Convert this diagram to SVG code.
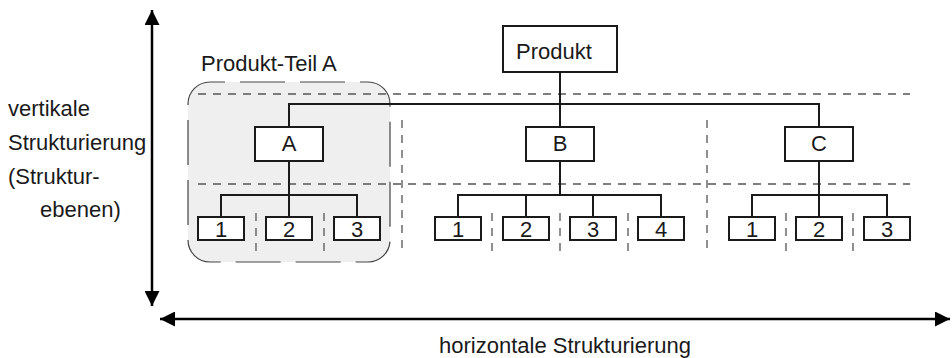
<svg xmlns="http://www.w3.org/2000/svg" width="952" height="358" viewBox="0 0 952 358">
  <style>
    text { font-family: "Liberation Sans", Arial, sans-serif; font-size: 22px; fill: #1a1a1a; }
    .c { text-anchor: middle; }
    .box { fill: #ffffff; stroke: #1a1a1a; stroke-width: 2; }
    .link { fill: none; stroke: #1a1a1a; stroke-width: 2; }
    .grid { fill: none; stroke: #555555; stroke-width: 1.3; stroke-dasharray: 8 7; }
    .axis { fill: none; stroke: #000000; stroke-width: 2.5; }
  </style>
  <defs>
    <marker id="arrow" viewBox="0 0 10 10" refX="10" refY="5" markerWidth="7" markerHeight="6" markerUnits="strokeWidth" orient="auto-start-reverse">
      <path d="M0,0 L10,5 L0,10 Z" fill="#000000"/>
    </marker>
  </defs>

  <!-- Highlighted sub-product region -->
  <g id="produkt-teil-a">
    <rect x="188" y="82" width="202" height="180" rx="22" fill="#efefef" stroke="#444444" stroke-width="1.2" stroke-dasharray="45 15" stroke-dashoffset="30"/>
    <text x="201" y="71">Produkt-Teil A</text>
  </g>

  <!-- Level separators -->
  <g id="grid">
    <line class="grid" x1="198" y1="94" x2="910" y2="94"/>
    <line class="grid" x1="198" y1="184" x2="910" y2="184"/>
    <line class="grid" x1="402" y1="120" x2="402" y2="252"/>
    <line class="grid" x1="707" y1="120" x2="707" y2="252"/>
    <line class="grid" x1="256" y1="213" x2="256" y2="252"/>
    <line class="grid" x1="324" y1="213" x2="324" y2="252"/>
    <line class="grid" x1="492" y1="213" x2="492" y2="252"/>
    <line class="grid" x1="560" y1="213" x2="560" y2="252"/>
    <line class="grid" x1="628" y1="213" x2="628" y2="252"/>
    <line class="grid" x1="786" y1="213" x2="786" y2="252"/>
    <line class="grid" x1="853" y1="213" x2="853" y2="252"/>
  </g>

  <!-- Tree connectors -->
  <g id="connectors">
    <path class="link" d="M560,72 V127 M289,127 V104 H819 V127"/>
    <path class="link" d="M289,161 V195 M221,217 V195 H357 V217 M289,195 V217"/>
    <path class="link" d="M560,161 V195 M458,217 V195 H661 V217 M526,195 V217 M593,195 V217"/>
    <path class="link" d="M819,161 V195 M752,217 V195 H887 V217 M819,195 V217"/>
  </g>

  <!-- Root -->
  <g id="produkt">
    <rect class="box" x="503" y="26" width="114" height="46"/>
    <text x="516" y="59">Produkt</text>
  </g>

  <!-- Level 2 -->
  <g id="node-a">
    <rect class="box" x="255" y="127" width="68" height="34"/>
    <text class="c" x="289" y="151">A</text>
  </g>
  <g id="node-b">
    <rect class="box" x="526" y="127" width="68" height="34"/>
    <text class="c" x="560" y="151">B</text>
  </g>
  <g id="node-c">
    <rect class="box" x="785" y="127" width="68" height="34"/>
    <text class="c" x="819" y="151">C</text>
  </g>

  <!-- Level 3 -->
  <g id="node-a1"><rect class="box" x="198" y="217" width="46" height="23"/><text class="c" x="221" y="237">1</text></g>
  <g id="node-a2"><rect class="box" x="266" y="217" width="46" height="23"/><text class="c" x="289" y="237">2</text></g>
  <g id="node-a3"><rect class="box" x="334" y="217" width="46" height="23"/><text class="c" x="357" y="237">3</text></g>

  <g id="node-b1"><rect class="box" x="435" y="217" width="46" height="23"/><text class="c" x="458" y="237">1</text></g>
  <g id="node-b2"><rect class="box" x="503" y="217" width="46" height="23"/><text class="c" x="526" y="237">2</text></g>
  <g id="node-b3"><rect class="box" x="570" y="217" width="46" height="23"/><text class="c" x="593" y="237">3</text></g>
  <g id="node-b4"><rect class="box" x="638" y="217" width="46" height="23"/><text class="c" x="661" y="237">4</text></g>

  <g id="node-c1"><rect class="box" x="729" y="217" width="46" height="23"/><text class="c" x="752" y="237">1</text></g>
  <g id="node-c2"><rect class="box" x="796" y="217" width="46" height="23"/><text class="c" x="819" y="237">2</text></g>
  <g id="node-c3"><rect class="box" x="864" y="217" width="46" height="23"/><text class="c" x="887" y="237">3</text></g>

  <!-- Axes -->
  <g id="axes">
    <line class="axis" x1="152" y1="10" x2="152" y2="306" marker-start="url(#arrow)" marker-end="url(#arrow)"/>
    <line class="axis" x1="160" y1="319" x2="950" y2="319" marker-start="url(#arrow)" marker-end="url(#arrow)"/>
    <text x="8" y="116">vertikale</text>
    <text x="8" y="150">Strukturierung</text>
    <text x="8" y="184">(Struktur-</text>
    <text x="40" y="217">ebenen)</text>
    <text class="c" x="565" y="353">horizontale Strukturierung</text>
  </g>
</svg>
